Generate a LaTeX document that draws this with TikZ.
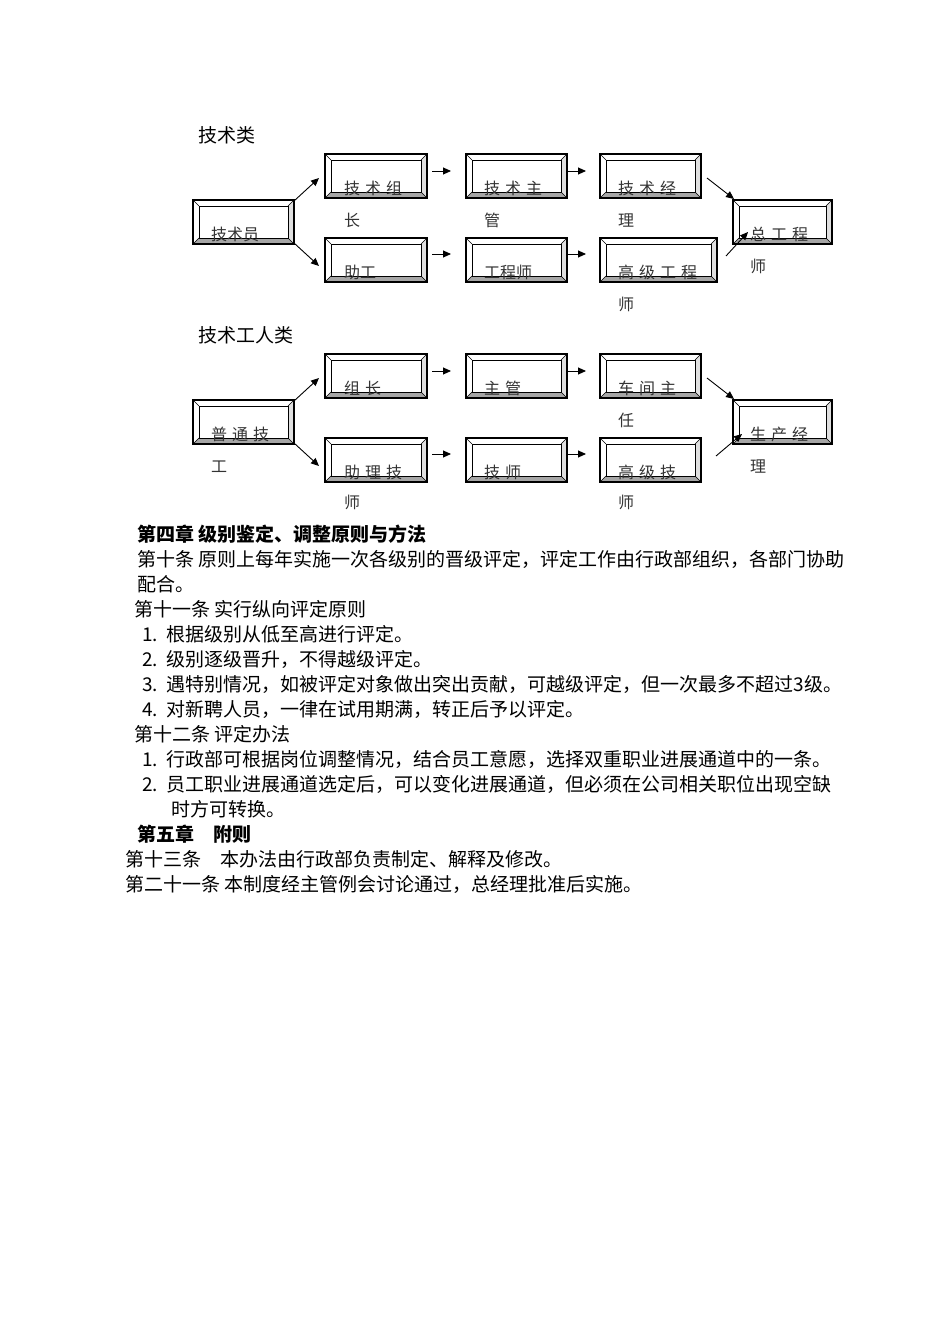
\documentclass[tikz,border=0pt]{standalone}
\usepackage{fontspec}
\setmainfont{Liberation Serif}
\newfontfamily\cjk{Noto Sans CJK SC}
\usetikzlibrary{arrows.meta}
\tikzset{
  txt/.style={anchor=base west,inner sep=0pt,font=\cjk\fontsize{19}{22}\selectfont},
  btxt/.style={txt,font=\cjk\bfseries\fontsize{19}{22}\selectfont},
  lbl/.style={anchor=base west,inner sep=0pt,font=\cjk\fontsize{16}{18}\selectfont,text=black!80},
  arr/.style={-{Triangle[length=8pt,width=7pt]},line width=0.9pt},
}
\newcommand{\gp}{\hspace{5pt}}
\newcommand{\bevbox}[5]{% name, x1,y1,x2,y2
  \fill[gray!55] (#2,#3) rectangle (#4,#5);
  \fill[white] (#2,#3) -- (#4,#3) -- ({#4-6},{#3+6}) -- ({#2+6},{#5-6}) -- (#2,#5) -- cycle;
  \fill[gray!25] (#4,#3) -- (#4,#5) -- ({#4-6},{#5-6}) -- ({#4-6},{#3+6}) -- cycle;
  \fill[gray!70] (#2,#5) -- (#4,#5) -- ({#4-6},{#5-6}) -- ({#2+6},{#5-6}) -- cycle;
  \draw[line width=0.8pt,fill=white] ({#2+6},{#3+6}) rectangle ({#4-6},{#5-6});
  \draw[line width=0.5pt] (#2,#3)--({#2+6},{#3+6}) (#4,#3)--({#4-6},{#3+6}) (#2,#5)--({#2+6},{#5-6}) (#4,#5)--({#4-6},{#5-6});
  \draw[line width=1.4pt] (#2,#3) rectangle (#4,#5);
  \coordinate (#1) at ({(#2+#4)/2},{(#3+#5)/2});
}
\begin{document}
\begin{tikzpicture}[x=1pt,y=-1pt]
\useasboundingbox (0,0) rectangle (950,1344);
% ---- group 1
\node[txt] (t1) at (198,142) {技术类};
\bevbox{a1}{325}{154}{427}{198}
\bevbox{a2}{466}{154}{567}{198}
\bevbox{a3}{600}{154}{701}{198}
\bevbox{a0}{193}{200}{294}{244}
\bevbox{a4}{733}{200}{832}{244}
\bevbox{b1}{325}{238}{427}{282}
\bevbox{b2}{466}{238}{567}{282}
\bevbox{b3}{600}{238}{717}{282}
\node[lbl] (l1) at (344,194) {技\gp 术\gp 组};
\node[lbl] (l1b) at (344,226) {长};
\node[lbl] (l2) at (484,194) {技\gp 术\gp 主};
\node[lbl] (l2b) at (484,226) {管};
\node[lbl] (l3) at (618,194) {技\gp 术\gp 经};
\node[lbl] (l3b) at (618,226) {理};
\node[lbl] (l0) at (211,240) {技术员};
\node[lbl] (l4) at (750,240) {总\gp 工\gp 程};
\node[lbl] (l4b) at (750,272) {师};
\node[lbl] (m1) at (344,278) {助工};
\node[lbl] (m2) at (484,278) {工程师};
\node[lbl] (m3) at (618,278) {高\gp 级\gp 工\gp 程};
\node[lbl] (m3b) at (618,310) {师};
\coordinate (p1) at (294,201); \coordinate (q1) at (319,178);
\coordinate (p2) at (294,243); \coordinate (q2) at (319,266);
\draw[arr] (p1) -- (q1); \draw[arr] (p2) -- (q2);
\coordinate (r1) at (432,171); \coordinate (s1) at (451,171);
\coordinate (r2) at (567,171); \coordinate (s2) at (586,171);
\coordinate (r3) at (432,254); \coordinate (s3) at (451,254);
\coordinate (r4) at (567,254); \coordinate (s4) at (586,254);
\draw[arr] (r1)--(s1); \draw[arr] (r2)--(s2); \draw[arr] (r3)--(s3); \draw[arr] (r4)--(s4);
\coordinate (u1) at (707,178); \coordinate (v1) at (734,199);
\coordinate (u2) at (726,256); \coordinate (v2) at (748,232);
\draw[arr] (u1)--(v1); \draw[arr] (u2)--(v2);
% ---- group 2
\node[txt] (t2) at (198,342) {技术工人类};
\bevbox{c1}{325}{354}{427}{398}
\bevbox{c2}{466}{354}{567}{398}
\bevbox{c3}{600}{354}{701}{398}
\bevbox{c0}{193}{400}{294}{444}
\bevbox{c4}{733}{400}{832}{444}
\bevbox{d1}{325}{438}{427}{482}
\bevbox{d2}{466}{438}{567}{482}
\bevbox{d3}{600}{438}{701}{482}
\node[lbl] (n1) at (344,394) {组\gp 长};
\node[lbl] (n2) at (484,394) {主\gp 管};
\node[lbl] (n3) at (618,394) {车\gp 间\gp 主};
\node[lbl] (n3b) at (618,426) {任};
\node[lbl] (n0) at (211,440) {普\gp 通\gp 技};
\node[lbl] (n0b) at (211,472) {工};
\node[lbl] (n4) at (750,440) {生\gp 产\gp 经};
\node[lbl] (n4b) at (750,472) {理};
\node[lbl] (o1) at (344,478) {助\gp 理\gp 技};
\node[lbl] (o1b) at (344,508) {师};
\node[lbl] (o2) at (484,478) {技\gp 师};
\node[lbl] (o3) at (618,478) {高\gp 级\gp 技};
\node[lbl] (o3b) at (618,508) {师};
\coordinate (P1) at (294,401); \coordinate (Q1) at (319,378);
\coordinate (P2) at (294,443); \coordinate (Q2) at (319,466);
\draw[arr] (P1) -- (Q1); \draw[arr] (P2) -- (Q2);
\coordinate (R1) at (432,371); \coordinate (S1) at (451,371);
\coordinate (R2) at (567,371); \coordinate (S2) at (586,371);
\coordinate (R3) at (432,454); \coordinate (S3) at (451,454);
\coordinate (R4) at (567,454); \coordinate (S4) at (586,454);
\draw[arr] (R1)--(S1); \draw[arr] (R2)--(S2); \draw[arr] (R3)--(S3); \draw[arr] (R4)--(S4);
\coordinate (U1) at (707,378); \coordinate (V1) at (734,399);
\coordinate (U2) at (716,456); \coordinate (V2) at (742,434);
\draw[arr] (U1)--(V1); \draw[arr] (U2)--(V2);
% ---- text
\node[btxt] (x1) at (137,541) {第四章\ 级别鉴定、调整原则与方法};
\node[txt] (x2) at (137,566) {第十条 原则上每年实施一次各级别的晋级评定，评定工作由行政部组织，各部门协助};
\node[txt] (x3) at (137,591) {配合。};
\node[txt] (x4) at (134,616) {第十一条\ 实行纵向评定原则};
\node[txt] (x5) at (142,641) {1.\ \ 根据级别从低至高进行评定。};
\node[txt] (x6) at (142,666) {2.\ \ 级别逐级晋升，不得越级评定。};
\node[txt] (x7) at (142,691) {3.\ \ 遇特别情况，如被评定对象做出突出贡献，可越级评定，但一次最多不超过3级。};
\node[txt] (x8) at (142,716) {4.\ \ 对新聘人员，一律在试用期满，转正后予以评定。};
\node[txt] (x9) at (134,741) {第十二条 评定办法};
\node[txt] (x10) at (142,766) {1.\ \ 行政部可根据岗位调整情况，结合员工意愿，选择双重职业进展通道中的一条。};
\node[txt] (x11) at (142,791) {2.\ \ 员工职业进展通道选定后，可以变化进展通道，但必须在公司相关职位出现空缺};
\node[txt] (x12) at (171,816) {时方可转换。};
\node[btxt] (x13) at (137,841) {第五章\quad 附则};
\node[txt] (x14) at (125,866) {第十三条\quad 本办法由行政部负责制定、解释及修改。};
\node[txt] (x15) at (125,891) {第二十一条\ 本制度经主管例会讨论通过，总经理批准后实施。};
\end{tikzpicture}
\end{document}
